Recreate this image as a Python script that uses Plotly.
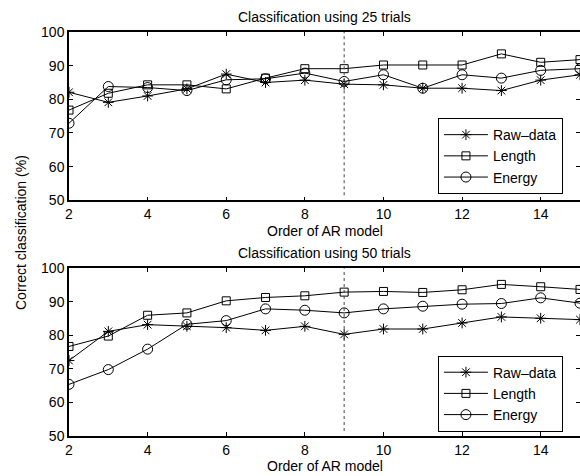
import plotly.graph_objects as go

orders = [2, 3, 4, 5, 6, 7, 8, 9, 10, 11, 12, 13, 14, 15]

# 25 trials
raw_25 = [82.1, 79.1, 81.0, 83.1, 87.5, 85.0, 85.7, 84.5, 84.3, 83.3, 83.3, 82.6, 85.7, 87.3]
len_25 = [76.8, 81.8, 84.3, 84.3, 83.1, 86.3, 89.1, 89.1, 90.2, 90.2, 90.2, 93.5, 91.0, 91.8]
eng_25 = [72.9, 83.8, 83.5, 82.6, 85.8, 86.1, 87.8, 85.3, 87.3, 83.3, 87.3, 86.3, 88.6, 89.1]

# 50 trials
raw_50 = [72.5, 81.2, 83.2, 82.7, 82.3, 81.5, 82.7, 80.3, 81.9, 81.9, 83.7, 85.5, 85.1, 84.7]
len_50 = [76.7, 79.8, 86.0, 86.7, 90.3, 91.3, 91.8, 92.9, 93.1, 92.8, 93.6, 95.2, 94.5, 93.7]
eng_50 = [65.4, 69.8, 75.9, 83.3, 84.4, 87.9, 87.5, 86.7, 87.9, 88.7, 89.3, 89.5, 91.2, 89.6]

series_names = ["Raw\u2013data", "Length", "Energy"]
y_ticks = [50, 60, 70, 80, 90, 100]
x_ticks = [2, 4, 6, 8, 10, 12, 14]
selected_order = 9
titles = ["Classification using 25 trials", "Classification using 50 trials"]
x_title = "Order of AR model"
y_title = "Correct classification (%)"

FONT = "Liberation Sans, Arial, Helvetica, sans-serif"
FS = 14
symbols = ["asterisk-open", "square-open", "circle-open"]
msizes = [9, 8, 10]

fig = go.Figure()

panels = [(raw_25, len_25, eng_25), (raw_50, len_50, eng_50)]
for p, data in enumerate(panels):
    xa = "x" if p == 0 else "x2"
    ya = "y" if p == 0 else "y2"
    leg = "legend" if p == 0 else "legend2"
    for name, vals, sym, ms in zip(series_names, data, symbols, msizes):
        fig.add_trace(go.Scatter(
            x=orders, y=vals, name=name, mode="lines+markers",
            xaxis=xa, yaxis=ya, legend=leg,
            line=dict(color="black", width=1),
            marker=dict(symbol=sym, size=ms, color="black",
                        line=dict(color="black", width=1)),
        ))
    # invisible trace for right-side tick axis
    fig.add_trace(go.Scatter(
        x=orders, y=data[0], mode="lines", xaxis=xa,
        yaxis="y3" if p == 0 else "y4", showlegend=False,
        hoverinfo="skip", line=dict(color="rgba(0,0,0,0)", width=0),
    ))

top_dom = [0.5834, 1.0]
bot_dom = [0.0, 0.4151]

axis_common = dict(
    showgrid=False, zeroline=False, ticks="inside", ticklen=4,
    tickcolor="black", linecolor="black", linewidth=1.5, showline=True,
    tickfont=dict(family=FONT, size=FS, color="black"),
)

fig.update_layout(
    width=580, height=476,
    margin=dict(l=69, r=0, t=32, b=40),
    paper_bgcolor="white", plot_bgcolor="white",
    font=dict(family=FONT, size=FS, color="black"),
    xaxis=dict(domain=[0, 1], anchor="y", range=[2, 15], tickvals=x_ticks,
               mirror="ticks", **axis_common),
    yaxis=dict(domain=top_dom, anchor="x", range=[50, 100], tickvals=y_ticks,
               **axis_common),
    yaxis3=dict(domain=top_dom, anchor="x", overlaying="y", side="right",
                range=[50, 100], tickvals=y_ticks, showticklabels=False,
                showline=False, showgrid=False, zeroline=False,
                ticks="inside", ticklen=4, tickcolor="black"),
    xaxis2=dict(domain=[0, 1], anchor="y2", range=[2, 15], tickvals=x_ticks,
                mirror="ticks", **axis_common),
    yaxis2=dict(domain=bot_dom, anchor="x2", range=[50, 100], tickvals=y_ticks,
                **axis_common),
    yaxis4=dict(domain=bot_dom, anchor="x2", overlaying="y2", side="right",
                range=[50, 100], tickvals=y_ticks, showticklabels=False,
                showline=False, showgrid=False, zeroline=False,
                ticks="inside", ticklen=4, tickcolor="black"),
    legend=dict(x=0.722, y=0.787, xanchor="left", yanchor="top",
                bgcolor="white", bordercolor="black", borderwidth=1,
                font=dict(family=FONT, size=FS, color="black"),
                itemwidth=44, tracegroupgap=0),
    legend2=dict(x=0.722, y=0.199, xanchor="left", yanchor="top",
                 bgcolor="white", bordercolor="black", borderwidth=1,
                 font=dict(family=FONT, size=FS, color="black"),
                 itemwidth=44, tracegroupgap=0),
    showlegend=True,
)

# dotted reference line at the selected model order
for ya in ["y", "y2"]:
    fig.add_shape(type="line", xref="x" if ya == "y" else "x2",
                  yref=f"{ya} domain", x0=selected_order, x1=selected_order,
                  y0=0.03, y1=1, line=dict(color="#444", width=1, dash="dot"))

# titles and axis labels
anns = [
    dict(text=titles[0], x=0.5, xref="paper", y=17, yref="paper"),
    dict(text=titles[1], x=0.5, xref="paper", y=253, yref="paper"),
    dict(text=x_title, x=0.5, xref="paper", y=231, yref="paper"),
    dict(text=x_title, x=0.5, xref="paper", y=466, yref="paper"),
]
H = 476
plot_h = H - 32 - 40
for a in anns:
    px = a["y"]
    fig.add_annotation(text=a["text"], x=a["x"], xref="paper",
                       y=(H - 40 - px) / plot_h, yref="paper",
                       xanchor="center", yanchor="middle", showarrow=False,
                       font=dict(family=FONT, size=FS, color="black"))
fig.add_annotation(text=y_title, x=(21 - 69) / 511, xref="paper",
                   y=(H - 40 - 233) / plot_h, yref="paper", textangle=-90,
                   xanchor="center", yanchor="middle", showarrow=False,
                   font=dict(family=FONT, size=FS, color="black"))

fig.write_html(
    "out.html",
    config={"displayModeBar": False},
    post_script="document.body.style.margin='0';document.body.style.overflow='hidden';",
)
